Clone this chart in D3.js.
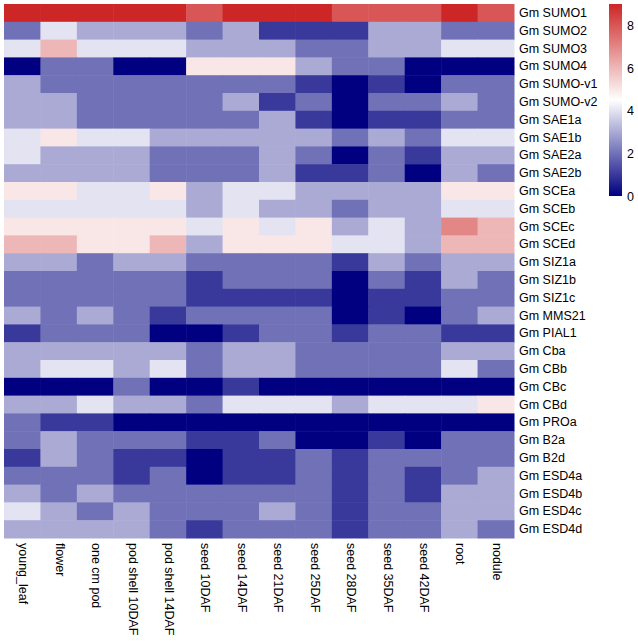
<!DOCTYPE html>
<html>
<head>
<meta charset="utf-8">
<script src="https://cdn.jsdelivr.net/npm/d3@7/dist/d3.min.js"></script>
<style>
  html, body { margin: 0; padding: 0; background: #fff; }
  svg text { font-family: "Liberation Sans", Arial, Helvetica, sans-serif; fill: #000; }
</style>
</head>
<body>
<svg id="chart" width="638" height="641"></svg>
<script>
const samples = ["young_leaf", "flower", "one cm pod", "pod shell 10DAF", "pod shell 14DAF",
  "seed 10DAF", "seed 14DAF", "seed 21DAF", "seed 25DAF", "seed 28DAF", "seed 35DAF",
  "seed 42DAF", "root", "nodule"];

const genes = ["Gm SUMO1", "Gm SUMO2", "Gm SUMO3", "Gm SUMO4", "Gm SUMO-v1", "Gm SUMO-v2",
  "Gm SAE1a", "Gm SAE1b", "Gm SAE2a", "Gm SAE2b", "Gm SCEa", "Gm SCEb", "Gm SCEc", "Gm SCEd",
  "Gm SIZ1a", "Gm SIZ1b", "Gm SIZ1c", "Gm MMS21", "Gm PIAL1", "Gm Cba", "Gm CBb", "Gm CBc",
  "Gm CBd", "Gm PROa", "Gm B2a", "Gm B2d", "Gm ESD4a", "Gm ESD4b", "Gm ESD4c", "Gm ESD4d"];

// expression values, one array per gene, in sample order
const SUMO1  = [9, 9, 9, 9, 9, 8, 9, 9, 9, 8, 8, 8, 9, 8];
const SUMO2  = [2, 4, 3, 3, 3, 2, 3, 1, 1, 1, 3, 3, 2, 2];
const SUMO3  = [4, 6, 4, 4, 4, 3, 3, 3, 2, 2, 3, 3, 4, 4];
const SUMO4  = [0, 2, 2, 0, 0, 5, 5, 5, 3, 2, 2, 0, 0, 0];
const SUMOv1 = [3, 2, 2, 2, 2, 2, 2, 2, 1, 0, 1, 0, 2, 2];
const SUMOv2 = [3, 3, 2, 2, 2, 2, 3, 1, 2, 0, 2, 2, 3, 2];
const SAE1a  = [3, 3, 2, 2, 2, 2, 2, 3, 1, 0, 1, 1, 2, 2];
const SAE1b  = [4, 5, 4, 4, 3, 3, 3, 3, 3, 2, 3, 2, 4, 4];
const SAE2a  = [4, 3, 3, 3, 2, 2, 2, 3, 2, 0, 2, 1, 3, 3];
const SAE2b  = [3, 3, 3, 3, 2, 2, 2, 3, 1, 1, 2, 0, 3, 2];
const SCEa   = [5, 5, 4, 4, 5, 3, 4, 4, 3, 3, 3, 3, 5, 5];
const SCEb   = [4, 4, 4, 4, 4, 3, 4, 3, 3, 2, 3, 3, 4, 4];
const SCEc   = [5, 5, 5, 5, 5, 4, 5, 4, 5, 3, 4, 3, 7, 6];
const SCEd   = [6, 6, 5, 5, 6, 3, 5, 5, 5, 4, 4, 3, 6, 6];
const SIZ1a  = [3, 3, 2, 3, 3, 2, 2, 2, 2, 1, 3, 2, 3, 3];
const SIZ1b  = [2, 2, 2, 2, 2, 1, 2, 2, 2, 0, 2, 1, 3, 2];
const SIZ1c  = [2, 2, 2, 2, 2, 1, 1, 1, 1, 0, 1, 1, 2, 2];
const MMS21  = [3, 2, 3, 2, 1, 2, 2, 2, 2, 0, 1, 0, 2, 3];
const PIAL1  = [1, 2, 2, 2, 0, 0, 1, 2, 2, 1, 2, 2, 1, 1];
const Cba    = [3, 3, 3, 3, 3, 2, 3, 3, 2, 2, 2, 2, 3, 3];
const CBb    = [3, 4, 4, 3, 4, 2, 3, 3, 2, 2, 2, 2, 4, 2];
const CBc    = [0, 0, 0, 2, 0, 0, 1, 0, 0, 0, 0, 0, 0, 0];
const CBd    = [3, 3, 4, 3, 3, 2, 4, 4, 4, 3, 4, 4, 4, 5];
const PROa   = [2, 1, 1, 0, 0, 0, 0, 0, 0, 0, 0, 0, 0, 0];
const B2a    = [2, 3, 2, 2, 2, 1, 1, 2, 0, 0, 1, 0, 2, 2];
const B2d    = [1, 3, 2, 1, 1, 0, 1, 1, 2, 1, 2, 2, 2, 2];
const ESD4a  = [2, 2, 2, 1, 2, 0, 1, 1, 2, 1, 2, 1, 2, 3];
const ESD4b  = [3, 2, 3, 2, 2, 2, 2, 2, 2, 1, 2, 1, 3, 3];
const ESD4c  = [4, 3, 2, 3, 2, 2, 2, 3, 2, 1, 2, 2, 3, 3];
const ESD4d  = [3, 3, 3, 3, 2, 1, 2, 2, 2, 1, 2, 2, 3, 2];

const rowsValues = [SUMO1, SUMO2, SUMO3, SUMO4, SUMOv1, SUMOv2, SAE1a, SAE1b, SAE2a, SAE2b,
  SCEa, SCEb, SCEc, SCEd, SIZ1a, SIZ1b, SIZ1c, MMS21, PIAL1, Cba, CBb, CBc, CBd, PROa,
  B2a, B2d, ESD4a, ESD4b, ESD4c, ESD4d];

const legendTicks = [0, 2, 4, 6, 8];
const colorDomain = [0, 4.5, 9];

const cells = [];
genes.forEach((g, i) => samples.forEach((s, j) => cells.push({gene: g, sample: s, value: rowsValues[i][j]})));

const svg = d3.select("#chart");
const hm = {left: 4, top: 4, right: 514, bottom: 538};

const x = d3.scaleBand().domain(samples).range([hm.left, hm.right]).padding(0);
const y = d3.scaleBand().domain(genes).range([hm.top, hm.bottom]).padding(0);
const color = d3.scaleLinear().domain(colorDomain).range(["#000080", "#ffffff", "#CD2626"])
  .interpolate(d3.interpolateRgb).clamp(true);

svg.append("g").selectAll("rect").data(cells).join("rect")
  .attr("x", d => x(d.sample))
  .attr("y", d => y(d.gene))
  .attr("width", x.bandwidth() + 0.5)
  .attr("height", y.bandwidth() + 0.5)
  .attr("fill", d => color(d.value));

// row labels
const rowAxis = d3.axisRight(y).tickSize(0).tickPadding(5);
const ra = svg.append("g").attr("transform", `translate(${hm.right},0)`).call(rowAxis);
ra.select(".domain").remove();
ra.selectAll("text").attr("font-size", "12.5px").attr("font-family", "Liberation Sans, Arial, sans-serif");

// column labels
const colAxis = d3.axisBottom(x).tickSize(0).tickPadding(0);
const ca = svg.append("g").attr("transform", `translate(0,${hm.bottom})`).call(colAxis);
ca.select(".domain").remove();
ca.selectAll("text")
  .attr("font-size", "12.5px")
  .attr("font-family", "Liberation Sans, Arial, sans-serif")
  .attr("text-anchor", "start")
  .attr("dy", "0.35em")
  .attr("y", 0)
  .attr("transform", "translate(1.5,5) rotate(90)");

// legend
const lg = {x: 609, w: 13, top: 4, bottom: 196};
const ly = d3.scaleLinear().domain([0, 9]).range([lg.bottom, lg.top]);
const defs = svg.append("defs");
const grad = defs.append("linearGradient").attr("id", "lgGrad")
  .attr("x1", 0).attr("y1", 1).attr("x2", 0).attr("y2", 0);
d3.range(0, 9.01, 0.5).forEach(v => {
  grad.append("stop").attr("offset", (v / 9)).attr("stop-color", color(v));
});
svg.append("rect").attr("x", lg.x).attr("y", lg.top).attr("width", lg.w)
  .attr("height", lg.bottom - lg.top).attr("fill", "url(#lgGrad)");
const legAxis = d3.axisRight(ly).tickValues(legendTicks).tickSize(0).tickPadding(5);
const la = svg.append("g").attr("transform", `translate(${lg.x + lg.w},0)`).call(legAxis);
la.select(".domain").remove();
la.selectAll("text").attr("font-size", "12.5px").attr("font-family", "Liberation Sans, Arial, sans-serif");
</script>
</body>
</html>
